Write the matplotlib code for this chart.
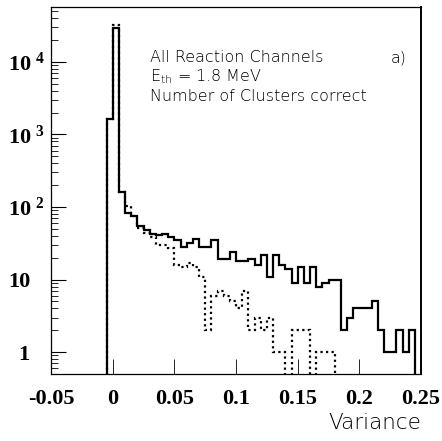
import numpy as np
import matplotlib
matplotlib.use("Agg")
import matplotlib.pyplot as plt
from matplotlib.ticker import FixedLocator, FixedFormatter, LogLocator, NullFormatter

# Variance histograms, 60 bins of width 0.005 from -0.05 to 0.25
bin_lo, bin_hi, n_bins = -0.05, 0.25, 60

# all events (solid)
counts_all = [0, 0, 0, 0, 0, 0, 0, 0, 0, 1630,
              29500, 160, 82, 76, 54, 48, 43, 41, 42, 39,
              35, 28, 32, 36, 28, 28, 35, 19, 19, 24,
              18, 18, 19, 16, 22, 11, 22, 16, 14, 9,
              15, 9, 15, 8, 9, 10, 10, 2, 3, 4,
              4, 4, 5, 2, 1, 1, 2, 1, 2, 0]

# events with the number of clusters correct (dotted)
counts_correct = [0, 0, 0, 0, 0, 0, 0, 0, 0, 1630,
                  32000, 160, 103, 76, 52, 44, 39, 30, 30, 27,
                  16, 15, 17, 15, 11, 2, 6, 7, 6, 5,
                  4, 7, 2, 3, 2, 3, 1, 1, 0, 2,
                  2, 2, 0, 1, 1, 1, 0, 0, 0, 0,
                  0, 0, 0, 0, 0, 0, 0, 0, 0, 0]

x_ticks = [-0.05, 0, 0.05, 0.1, 0.15, 0.2, 0.25]
x_labels = ["-0.05", "0", "0.05", "0.1", "0.15", "0.2", "0.25"]
y_ticks = [1, 10, 100, 1000, 10000]
y_labels = [r"$\mathbf{\enspace 1}$", "10",
            r"$\mathbf{10^{\ 2}}$", r"$\mathbf{10^{\ 3}}$", r"$\mathbf{10^{\ 4}}$"]

plt.rcParams["mathtext.fontset"] = "custom"
plt.rcParams["mathtext.bf"] = "Liberation Serif:bold"
plt.rcParams["mathtext.rm"] = "Liberation Serif:bold"

edges = np.linspace(bin_lo, bin_hi, n_bins + 1)

fig = plt.figure(figsize=(4.42, 4.41), dpi=100)
ax = fig.add_axes([0.1154, 0.152, 0.8371, 0.832])

ax.stairs(counts_all, edges, color="black", lw=1.6, baseline=0)
ax.stairs(counts_correct, edges, color="black", lw=1.6, ls=(0, (1, 1.5)), baseline=0)

ax.set_yscale("log")
ax.set_xlim(bin_lo, bin_hi)
ax.set_ylim(0.5, 57000)

ax.xaxis.set_major_locator(FixedLocator(x_ticks))
ax.xaxis.set_major_formatter(FixedFormatter(x_labels))
ax.yaxis.set_major_locator(FixedLocator(y_ticks))
ax.yaxis.set_major_formatter(FixedFormatter(y_labels))
ax.yaxis.set_minor_locator(LogLocator(base=10, subs=np.arange(2, 10)))
ax.yaxis.set_minor_formatter(NullFormatter())

tick_font = {"family": "Liberation Serif", "weight": "bold", "size": 16}
ax.tick_params(axis="x", direction="in", length=11, width=0.6, pad=11, top=False)
ax.tick_params(axis="y", which="major", direction="in", length=11, width=0.8, pad=31)
ax.tick_params(axis="y", which="minor", direction="in", length=5, width=0.6)
for lab in ax.get_xticklabels():
    lab.set_fontproperties(tick_font)
for lab in ax.get_yticklabels():
    lab.set_fontproperties(tick_font)
    lab.set_horizontalalignment("left")

for side in ["left", "bottom", "top"]:
    ax.spines[side].set_linewidth(0.9)
ax.spines["right"].set_linewidth(1.4)

txt = {"family": "DejaVu Sans", "weight": "light", "size": 11.5,
       "color": "black", "va": "baseline"}
ax.text(0.268, 0.849, "All Reaction Channels", transform=ax.transAxes, **txt)
ax.text(0.919, 0.849, "a)", transform=ax.transAxes, **txt)
ax.text(0.268, 0.797, r"E$_{\mathregular{th}}$ = 1.8 MeV", transform=ax.transAxes, **txt)
ax.text(0.268, 0.745, "Number of Clusters correct", transform=ax.transAxes, **txt)

ax.set_xlabel("Variance", fontfamily="DejaVu Sans", fontweight="light",
              fontsize=15.5, loc="right", labelpad=3)

fig.savefig("out.png", dpi=100)
